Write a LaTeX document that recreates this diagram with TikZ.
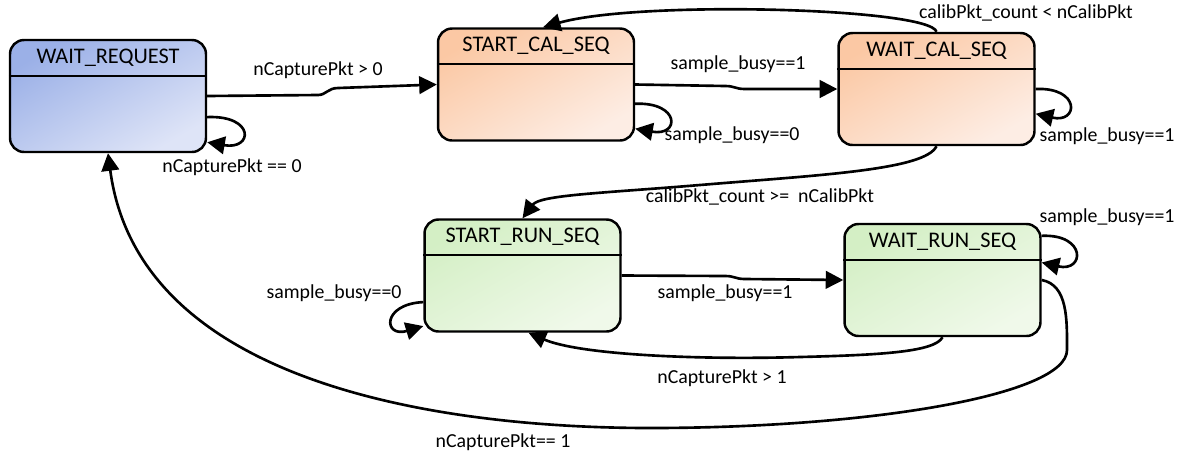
\documentclass[tikz,border=0pt]{standalone}
\usepackage{fontspec}
\setmainfont{Carlito}
\usetikzlibrary{arrows.meta,calc}
\definecolor{blueA}{HTML}{9BB0E7}
\definecolor{blueB}{HTML}{DEE4F7}
\definecolor{oraA}{HTML}{FBC8A4}
\definecolor{oraB}{HTML}{FDEDE4}
\definecolor{grnA}{HTML}{D4EFC5}
\definecolor{grnB}{HTML}{F0F9EA}
\pgfdeclareverticalshading{blueshade}{100bp}{color(0bp)=(blueB); color(25bp)=(blueB); color(75bp)=(blueA); color(100bp)=(blueA)}
\pgfdeclareverticalshading{orashade}{100bp}{color(0bp)=(oraB); color(25bp)=(oraB); color(75bp)=(oraA); color(100bp)=(oraA)}
\pgfdeclareverticalshading{grnshade}{100bp}{color(0bp)=(grnB); color(25bp)=(grnB); color(75bp)=(grnA); color(100bp)=(grnA)}
\tikzset{
  statebox/.style={draw, rectangle, rounded corners=0.28cm, line width=1.4pt,
    minimum width=3.92cm, minimum height=2.24cm, inner sep=0pt},
  titletext/.style={inner sep=0pt, font=\fontsize{12.7}{15}\selectfont},
  hdr/.style={line width=1.2pt},
  edge/.style={line width=1.5pt, -{Triangle[length=10pt,width=10pt]}},
  lbl/.style={inner sep=0pt, font=\fontsize{11.3}{13}\selectfont},
}
\newcommand\mystate[4]{%
  \node[statebox, shade, shading=#4, shading angle=30] (#1) at #2 {};
  \node[titletext] (#1t) at ([yshift=-0.37cm]#1.north) {#3};
  \draw[hdr] ([yshift=-0.74cm]#1.north west) -- ([yshift=-0.74cm]#1.north east);
}
\begin{document}
\begin{tikzpicture}[x=0.02cm, y=-0.02cm]
\useasboundingbox (0,0) rectangle (1186,454);

\mystate{wr}{(108,96)}{WAIT\_REQUEST}{blueshade}
\mystate{scs}{(536,84.5)}{START\_CAL\_SEQ}{orashade}
\mystate{wcs}{(936.5,89)}{WAIT\_CAL\_SEQ}{orashade}
\mystate{srs}{(522.5,275.5)}{START\_RUN\_SEQ}{grnshade}
\mystate{wrs}{(942.5,280)}{WAIT\_RUN\_SEQ}{grnshade}

% WAIT_REQUEST -> START_CAL_SEQ
\draw[edge] (wr.east) -- (318,95) .. controls (326,95) and (328,88) .. (338,88) -- (scs.west);
\node[lbl] (l1) at (318,70) {nCapturePkt > 0};
% WAIT_REQUEST self loop
\draw[edge] (wr.-12) .. controls +(48,-2) and +(46,8) .. (wr.-25);
\node[lbl] (l2) at (232,167) {nCapturePkt == 0};

% START_CAL_SEQ -> WAIT_CAL_SEQ
\draw[edge] (scs.east) -- (725,86) .. controls (735,86) and (735,89) .. (745,89) -- (wcs.west);
\node[lbl] (l3) at (738,64) {sample\_busy==1};
% START_CAL_SEQ self loop
\draw[edge] (scs.-11) .. controls +(45,-2) and +(45,8) .. (scs.-24);
\node[lbl] (l4) at (732,135) {sample\_busy==0};

% WAIT_CAL_SEQ -> START_CAL_SEQ
\draw[edge] (wcs.north) .. controls (930,8) and (640,0) .. (scs.83);
\node[lbl] (l5) at (1026,13) {calibPkt\_count < nCalibPkt};
% WAIT_CAL_SEQ self loop
\draw[edge] (wcs.0) .. controls +(45,-2) and +(43,10) .. (wcs.-14);
\node[lbl] (l6) at (1107,136) {sample\_busy==1};

% WAIT_CAL_SEQ -> START_RUN_SEQ
\draw[edge] (wcs.south) .. controls (925,170) and (820,175) .. (700,185)
  .. controls (600,193.3) and (540,195) .. (srs.north);
\node[lbl] (l7) at (760,197) {calibPkt\_count >=\ \ nCalibPkt};

% START_RUN_SEQ -> WAIT_RUN_SEQ
\draw[edge] (srs.east) -- (725,276) .. controls (735,276) and (735,279) .. (745,279) -- (wrs.west);
\node[lbl] (l8) at (725,293) {sample\_busy==1};
% START_RUN_SEQ self loop
\draw[edge] (srs.195) .. controls +(-42,2) and +(-40,12) .. (srs.207);
\node[lbl] (l9) at (334,293) {sample\_busy==0};

% WAIT_RUN_SEQ -> START_RUN_SEQ
\draw[edge] (wrs.south) .. controls (935,352) and (880,355) .. (800,357)
  .. controls (700,360) and (580,355) .. (srs.-84);
\node[lbl] (l10) at (722,378) {nCapturePkt > 1};
% WAIT_RUN_SEQ self loop
\draw[edge] (wrs.24) .. controls +(45,-2) and +(43,10) .. (wrs.10);
\node[lbl] (l11) at (1107,217) {sample\_busy==1};

% WAIT_RUN_SEQ -> WAIT_REQUEST
\draw[edge] (wrs.east) .. controls (1068,285) and (1067,320) .. (1067,350)
  .. controls (1067,395) and (870,428) .. (650,428)
  .. controls (470,428) and (140,395) .. (wr.south);
\node[lbl] (l12) at (503,442) {nCapturePkt== 1};
\end{tikzpicture}
\end{document}
